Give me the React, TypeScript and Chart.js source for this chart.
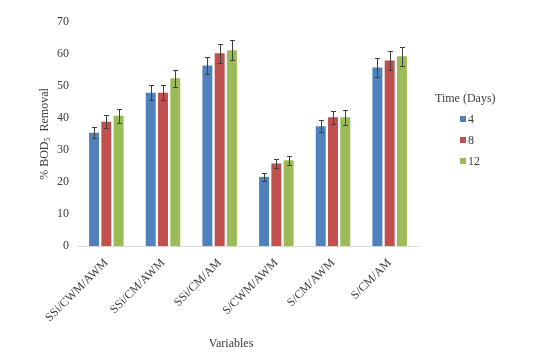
import React, { useEffect, useRef } from "react";
import { Chart, registerables } from "chart.js";

Chart.register(...registerables);

const categories = ["SSi/CWM/AWM", "SSi/CM/AWM", "SSi/CM/AM", "S/CWM/AWM", "S/CM/AWM", "S/CM/AM"];
const seriesNames = ["4", "8", "12"];
const day4 = [35.4, 47.9, 56.4, 21.6, 37.4, 55.8];
const day8 = [38.8, 47.9, 60.2, 25.8, 40.2, 58.0];
const day12 = [40.7, 52.4, 61.2, 26.8, 40.2, 59.3];
const err4 = [1.8, 2.4, 2.7, 1.2, 1.9, 2.9];
const err8 = [2.0, 2.4, 3.0, 1.5, 2.1, 3.0];
const err12 = [2.2, 2.6, 3.1, 1.4, 2.3, 3.0];
const colors = ["#4F81BD", "#C0504D", "#9BBB59"];
const yTicks = [0, 10, 20, 30, 40, 50, 60, 70];

const FONT = "'Liberation Serif', 'Times New Roman', serif";
const TEXT = "#404040";

export default function App() {
  const ref = useRef<HTMLCanvasElement | null>(null);
  useEffect(() => {
    document.body.style.margin = "0";
    const errs = [err4, err8, err12];
    const errorBars = {
      id: "errorBars",
      afterDatasetsDraw(chart: any) {
        const ctx = chart.ctx;
        const y = chart.scales.y;
        ctx.save();
        ctx.strokeStyle = "#3f3f3f";
        ctx.lineWidth = 1;
        chart.data.datasets.forEach((ds: any, di: number) => {
          const meta = chart.getDatasetMeta(di);
          meta.data.forEach((el: any, i: number) => {
            const v = ds.data[i];
            const e = errs[di][i];
            const yt = Math.round(y.getPixelForValue(v + e)) + 0.5;
            const yb = Math.round(y.getPixelForValue(v - e)) + 0.5;
            const x = Math.round(el.x) + 0.5;
            ctx.beginPath();
            ctx.moveTo(x, yt);
            ctx.lineTo(x, yb);
            ctx.moveTo(x - 2.5, yt);
            ctx.lineTo(x + 2.5, yt);
            ctx.moveTo(x - 2.5, yb);
            ctx.lineTo(x + 2.5, yb);
            ctx.stroke();
          });
        });
        ctx.restore();
      },
    };
    const decorations = {
      id: "decorations",
      afterDraw(chart: any) {
        const ctx = chart.ctx;
        ctx.save();
        ctx.fillStyle = TEXT;
        // y title
        ctx.translate(45, 134);
        ctx.rotate(-Math.PI / 2);
        ctx.textBaseline = "middle";
        const f12 = `12px ${FONT}`;
        const f8 = `8px ${FONT}`;
        ctx.font = f12;
        const p1 = "% BOD";
        const p3 = "  Removal";
        const w1 = ctx.measureText(p1).width;
        const w3 = ctx.measureText(p3).width;
        ctx.font = f8;
        const w2 = ctx.measureText("5").width;
        const total = w1 + w2 + w3;
        let x0 = -total / 2;
        ctx.textAlign = "left";
        ctx.font = f12;
        ctx.fillText(p1, x0, 0);
        ctx.font = f8;
        ctx.fillText("5", x0 + w1, 3);
        ctx.font = f12;
        ctx.fillText(p3, x0 + w1 + w2, 0);
        ctx.restore();

        ctx.save();
        ctx.fillStyle = TEXT;
        ctx.font = `12px ${FONT}`;
        ctx.textAlign = "center";
        ctx.textBaseline = "middle";
        ctx.fillText("Variables", 231, 344);
        // legend
        ctx.textAlign = "left";
        ctx.fillText("Time (Days)", 435, 99);
        const ly = [119, 140, 161];
        seriesNames.forEach((n, i) => {
          ctx.fillStyle = colors[i];
          ctx.fillRect(460, ly[i] - 3, 6, 6);
          ctx.fillStyle = TEXT;
          ctx.fillText(n, 468, ly[i] + 0.5);
        });
        ctx.restore();
      },
    };
    const chart = new Chart(ref.current as HTMLCanvasElement, {
      type: "bar",
      data: {
        labels: categories,
        datasets: [day4, day8, day12].map((d, i) => ({
          label: seriesNames[i],
          data: d,
          backgroundColor: colors[i],
          borderWidth: 0,
          categoryPercentage: 0.65,
          barPercentage: 0.81,
        })),
      },
      options: {
        animation: false,
        responsive: false,
        devicePixelRatio: 1,
        layout: { padding: { left: 0, right: 120, top: 22, bottom: 0 } },
        plugins: { legend: { display: false }, tooltip: { enabled: false } },
        scales: {
          x: {
            grid: { display: false },
            border: { display: true, color: "#d9d9d9", width: 1 },
            ticks: {
              color: TEXT,
              font: { family: FONT, size: 12 },
              maxRotation: 45,
              minRotation: 45,
              autoSkip: false,
              padding: 2,
            },
            afterFit(scale: any) {
              scale.height = 111;
            },
          },
          y: {
            min: 0,
            max: 70,
            afterBuildTicks(scale: any) {
              scale.ticks = yTicks.map((v) => ({ value: v }));
            },
            grid: { display: false, drawTicks: false },
            border: { display: false },
            ticks: {
              color: TEXT,
              font: { family: FONT, size: 12 },
              padding: 9,
            },
            afterFit(scale: any) {
              scale.width = 78;
            },
          },
        },
      },
      plugins: [errorBars, decorations],
    });
    return () => chart.destroy();
  }, []);
  return <canvas ref={ref} width={538} height={357} style={{ display: "block" }} />;
}
